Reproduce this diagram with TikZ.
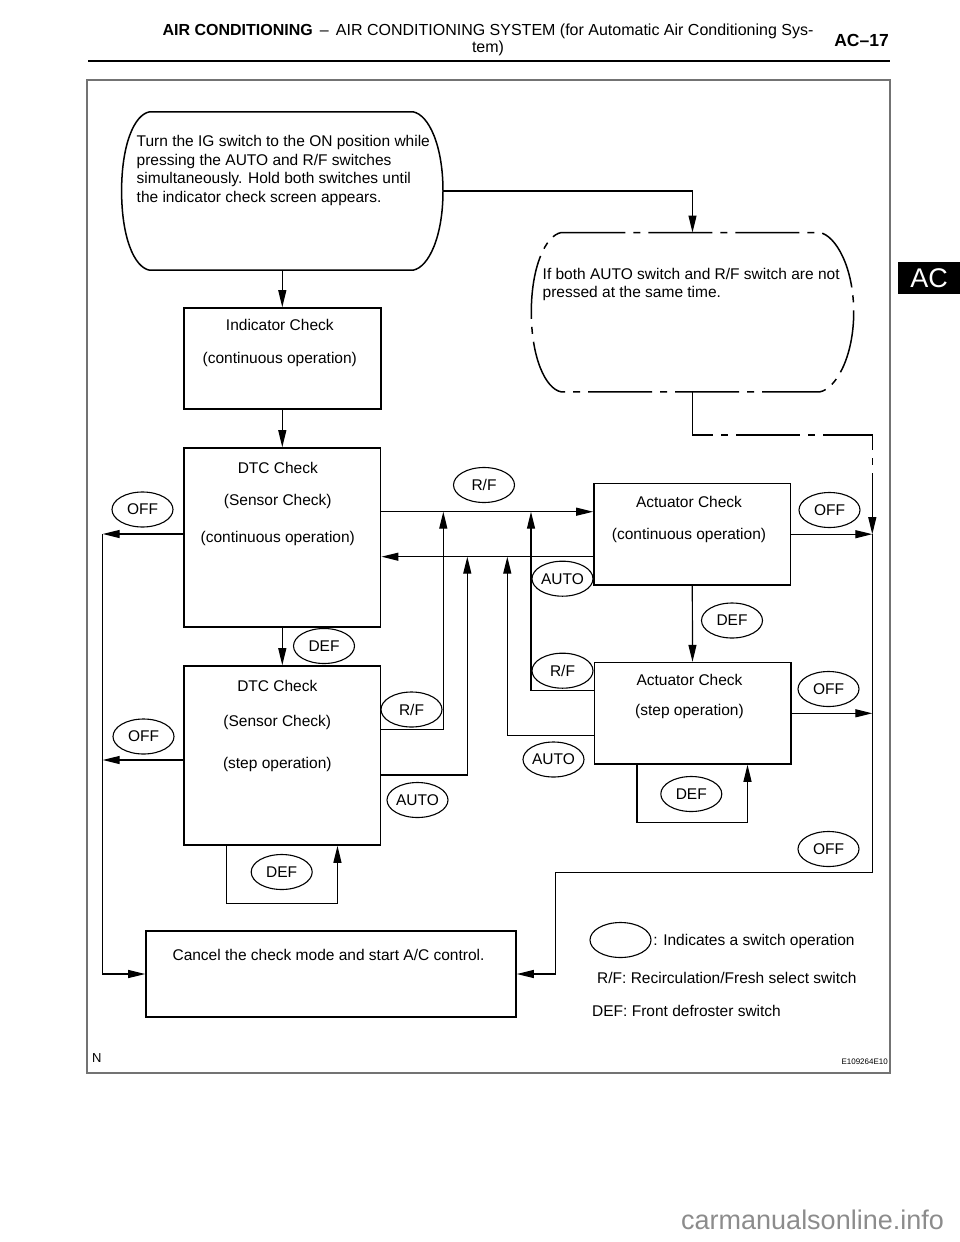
\documentclass[tikz,border=0pt]{standalone}
\usepackage{fontspec}
\setmainfont{Liberation Sans}
\usetikzlibrary{arrows.meta,positioning,shapes.geometric}

\tikzset{
  box/.style={draw,line width=1.6pt,inner sep=0pt},
  key/.style={draw,ellipse,line width=1.1pt,minimum width=61pt,minimum height=35pt,inner sep=0pt},
  txt/.style={inner sep=0pt,align=center},
  flow/.style={line width=1.2pt},
  dd/.style={flow,dash pattern=on 64pt off 8pt on 7pt off 8pt},
}

\begin{document}
\begin{tikzpicture}[x=1pt,y=-1pt,font=\fontsize{15.5}{18.5}\selectfont,>={Triangle[length=17pt,width=8pt]}]
   \useasboundingbox (0,0) rectangle (960,1242);

   \node[txt,font=\fontsize{16}{17.5}\selectfont] (HEAD) at (488,40) {\textbf{AIR CONDITIONING}\, – \,AIR CONDITIONING SYSTEM (for Automatic Air Conditioning Sys-\\tem)};
   \node[txt,font=\fontsize{17.5}{18}\selectfont\bfseries] (PAGE) at (861.5,40.5) {AC–17};
   \draw[line width=2.5pt] (88,61) -- (890,61);
   \draw[line width=1.2pt,black!55] (87,80) rectangle (890,1073);
   \node[fill=black,text=white,minimum width=62pt,minimum height=32pt,inner sep=0pt,font=\fontsize{27}{27}\selectfont] (TAB) at (929,278) {AC};

   \node[minimum width=321pt,minimum height=158pt,inner sep=0pt] (IG) at (282.3,191) {};
   \draw[line width=1.5pt] ([xshift=28pt]IG.north west) -- ([xshift=-30pt]IG.north east)
      .. controls +(16,3) and +(0,-45) .. (IG.east)
      .. controls +(0,45) and +(16,-3) .. ([xshift=-30pt]IG.south east)
      -- ([xshift=28pt]IG.south west)
      .. controls +(-16,-3) and +(0,45) .. (IG.west)
      .. controls +(0,-45) and +(-16,3) .. ([xshift=28pt]IG.north west) -- cycle;
   \node[txt,align=left,anchor=north west] (IGT) at ([xshift=14.9pt,yshift=-23.5pt]IG.north west) {Turn the IG switch to the ON position while\\pressing the AUTO and R/F switches\\simultaneously. Hold both switches until\\the indicator check screen appears.};

   \node[minimum width=322pt,minimum height=159pt,inner sep=0pt] (ALT) at (692.5,312.2) {};
   \draw[dd,line width=1.5pt] ([xshift=30pt]ALT.north west) -- ([xshift=-34pt]ALT.north east)
      .. controls +(16,3) and +(0,-45) .. (ALT.east)
      .. controls +(0,45) and +(16,-3) .. ([xshift=-34pt]ALT.south east)
      -- ([xshift=30pt]ALT.south west)
      .. controls +(-16,-3) and +(0,45) .. (ALT.west)
      .. controls +(0,-45) and +(-16,3) .. ([xshift=30pt]ALT.north west) -- cycle;
   \node[txt,align=left,anchor=north west] (ALTT) at ([xshift=11.2pt,yshift=-35.5pt]ALT.north west) {If both AUTO switch and R/F switch are not\\pressed at the same time.};

   \node[box,minimum width=197pt,minimum height=101pt] (IND) at (282.3,358.5) {};
   \node[box,minimum width=196.7pt,minimum height=179pt] (DTCC) at (282.3,537.5) {};
   \node[box,minimum width=196.7pt,minimum height=179pt] (DTCS) at (282.3,755.5) {};
   \node[box,minimum width=196.7pt,minimum height=101.7pt] (ACTC) at (692.3,534.2) {};
   \node[box,minimum width=196.4pt,minimum height=101.3pt] (ACTS) at (692.5,713.3) {};
   \node[box,minimum width=370pt,minimum height=86pt] (CNCL) at (331,974) {};

   \node[txt,below=11.5pt of IND.north,xshift=-2.5pt] {Indicator Check\\[15.2pt](continuous operation)};
   \node[txt,below=14.5pt of DTCC.north,xshift=-4.5pt] {DTC Check\\[13.5pt](Sensor Check)\\[19pt](continuous operation)};
   \node[txt,below=15pt of DTCS.north,xshift=-5pt] {DTC Check\\[16pt](Sensor Check)\\[24pt](step operation)};
   \node[txt,below=13.6pt of ACTC.north,xshift=-3.3pt] {Actuator Check\\[13pt](continuous operation)};
   \node[txt,below=12.2pt of ACTS.north,xshift=-3pt] {Actuator Check\\[11.5pt](step operation)};
   \node[txt,below=18.5pt of CNCL.north,xshift=-2.5pt] {Cancel the check mode and start A/C control.};

   \coordinate (RT) at (872.3,435);
   \coordinate (RB) at (872.3,872.7);
   \coordinate (BL) at (555.7,872.7);
   \coordinate (LB) at (102.7,534);
   \coordinate (V1) at (443.3,511.7);
   \coordinate (V2) at (467.3,556.7);
   \coordinate (V3) at (507.3,556.7);
   \coordinate (V4) at (531,511.7);

   \path[flow,->] (IG.south) edge (IND.north)
      (IND.south) edge (DTCC.north)
      (DTCC.south) edge (DTCS.north)
      (ACTC.south) edge (ACTS.north);
   \draw[flow,->] (IG.east) -| (ALT.north);
   \draw[dd,->] (ALT.south) |- (RT) -- (RT |- ACTC.east);

   \draw[flow,->] (DTCC.east |- V1) -- (ACTC.west |- V1);
   \draw[flow,->] (ACTC.west |- V2) -- (DTCC.east |- V2);
   \draw[flow,->] ([yshift=26.2pt]DTCS.east) -| (V1);
   \draw[flow,->] ([yshift=-19.5pt]DTCS.east) -| (V2);
   \draw[flow,->] ([yshift=-22.4pt]ACTS.west) -| (V3);
   \draw[flow,->] ([yshift=22.6pt]ACTS.west) -| (V4);

   \draw[flow,->] ([xshift=43.7pt]DTCS.south west) -- ++(0,57.3) -| ([xshift=-44pt]DTCS.south east);
   \draw[flow,->] ([xshift=43.4pt]ACTS.south west) -- ++(0,57.7) -| ([xshift=-44pt]ACTS.south east);

   \draw[flow,->] (ACTC.east) -- (ACTC.east -| RT);
   \draw[flow,->] (ACTS.east) -- (ACTS.east -| RT);
   \draw[flow,->] (RT |- ACTC.east) -- (RB) -- (BL) |- (CNCL.east);
   \draw[flow,->] (DTCC.west |- LB) -- (LB);
   \draw[flow,->] ([yshift=-4.5pt]DTCS.west) -- ([yshift=-4.5pt]DTCS.west -| LB);
   \draw[flow,->] (LB) |- (CNCL.west);

   \node[key] (RF1) at (484,485) {R/F};
   \node[key] (OFF1) at (142.5,509.5) {OFF};
   \node[key] (AUTO1) at (562.5,578.7) {AUTO};
   \node[key] (OFF2) at (829.5,510) {OFF};
   \node[key] (DEF1) at (324,646) {DEF};
   \node[key] (DEF2) at (732,620.5) {DEF};
   \node[key] (RF2) at (562.5,670.7) {R/F};
   \node[key] (OFF3) at (828.5,689) {OFF};
   \node[key] (RF3) at (411.5,709.5) {R/F};
   \node[key] (OFF4) at (143.5,736.5) {OFF};
   \node[key] (AUTO2) at (553.5,759.5) {AUTO};
   \node[key] (DEF3) at (691.3,794) {DEF};
   \node[key] (AUTO3) at (417.5,800) {AUTO};
   \node[key] (OFF5) at (828.5,849) {OFF};
   \node[key] (DEF4) at (281.7,872) {DEF};

   \node[key] (KEY) at (620.5,940) {};
   \node[txt,anchor=west] (KEYT) at ([xshift=1.5pt,yshift=-1.5pt]KEY.east) {: Indicates a switch operation};
   \node[txt,anchor=west] (KEYRF) at (597,977.5) {R/F: Recirculation/Fresh select switch};
   \node[txt,anchor=west] (KEYDEF) at (592,1010.5) {DEF: Front defroster switch};

   \node[txt,anchor=west,font=\fontsize{13}{13}\selectfont] (NMARK) at (92,1058) {N};
   \node[txt,anchor=east,font=\fontsize{8}{8}\selectfont] (FIG) at (888,1062) {E109264E10};
   \node[txt,anchor=west,text=black!45,font=\fontsize{27}{27}\selectfont] (WEB) at (681,1220) {carmanualsonline.info};
\end{tikzpicture}
\end{document}
